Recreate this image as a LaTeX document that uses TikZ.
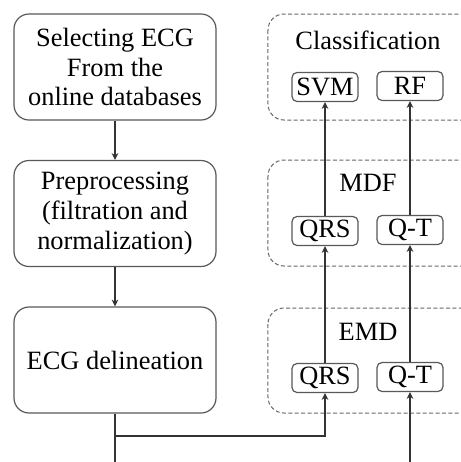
\documentclass[tikz,border=0pt]{standalone}
\usepackage{fontspec}
\setmainfont{Liberation Serif}
\usetikzlibrary{arrows.meta}

\tikzset{
  stage/.style={draw=black!65, line width=0.6pt, rounded corners=7.5pt,
    minimum width=101pt, minimum height=53pt, align=center, inner sep=0pt},
  group/.style={draw=black!60, line width=0.5pt, dash pattern=on 2pt off 1.2pt,
    rounded corners=8pt},
  feat/.style={draw=black!65, line width=0.6pt, rounded corners=2.5pt,
    minimum width=33pt, minimum height=14.5pt, inner sep=0pt},
  title/.style={inner sep=0pt},
  arr/.style={draw=black!80, line width=0.65pt, -{Stealth[length=3.4pt,width=3.4pt]}},
  wire/.style={draw=black!80, line width=0.65pt}
}

\begin{document}
\begin{tikzpicture}[x=0.5pt,y=-0.5pt,font=\fontsize{13.2}{14.8}\selectfont]
\useasboundingbox (0,0) rectangle (461,462);
\clip (0,0) rectangle (461,462);
\fill[white] (0,0) rectangle (461,462);

% left column
\node[stage] (select) at (115,67) {Selecting ECG\\From the\\online databases};
\node[stage] (prep) at (115,213.5) {Preprocessing\\(filtration and\\normalization)};
\node[stage] (delin) at (115,360) {ECG delineation};

% dashed groups
\draw[group] (268,14) rectangle (490,120);
\draw[group] (268,160) rectangle (490,266);
\draw[group] (268,308) rectangle (490,413);
\node[title] (cls) at (368,40) {Classification};
\node[title] (mdf) at (368,183) {MDF};
\node[title] (emd) at (368,332) {EMD};

% feature boxes
\node[feat] (svm) at (325,87) {SVM};
\node[feat] (rf) at (410,86) {RF};
\node[feat] (qrsM) at (325,231) {QRS};
\node[feat] (qtM) at (410,230) {Q-T};
\node[feat] (qrsE) at (325,378) {QRS};
\node[feat] (qtE) at (410,377) {Q-T};

\coordinate (jn) at (115,436);
\coordinate (bot) at (115,470);
\coordinate (qtin) at (410,470);

% connectors
\draw[arr] (select) -- (prep);
\draw[arr] (prep) -- (delin);
\draw[wire] (delin) -- (bot);
\draw[arr] (jn) -| (qrsE);
\draw[arr] (qtin) -- (qtE);
\draw[arr] (qrsE) -- (qrsM);
\draw[arr] (qtE) -- (qtM);
\draw[arr] (qrsM) -- (svm);
\draw[arr] (qtM) -- (rf);
\end{tikzpicture}
\end{document}
